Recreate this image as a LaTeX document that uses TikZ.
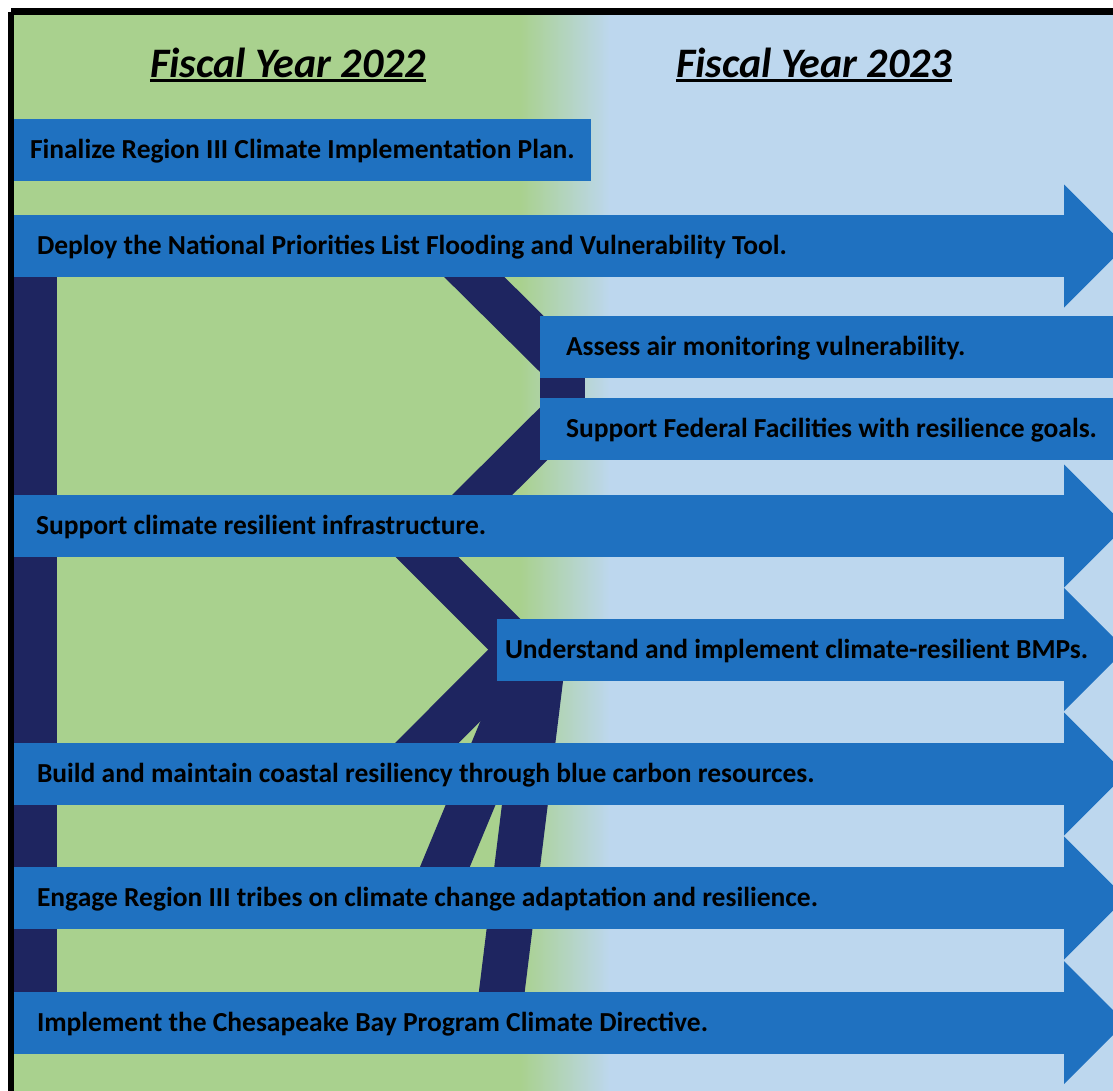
\documentclass[tikz,border=0pt]{standalone}
\usepackage{fontspec}
\setmainfont{Carlito}
\usetikzlibrary{positioning}
\usetikzlibrary{calc}
\usetikzlibrary{backgrounds}

\definecolor{leafgreen}{RGB}{169,209,142}
\definecolor{paleblue}{RGB}{189,215,238}
\definecolor{barblue}{RGB}{31,113,192}
\definecolor{inkblue}{RGB}{30,37,96}

\begin{document}
\begin{tikzpicture}
 [ x=1pt, y=-1pt
 , bar/.style={rectangle, fill=barblue, anchor=west, minimum height=62pt, inner sep=0pt, outer sep=0pt}
 , task/.style={font=\bfseries\fontsize{27.5}{32}\selectfont, text height=17.7pt, text depth=0pt, inner sep=0pt, outer sep=0pt}
 , heading/.style={font=\bfseries\itshape\fontsize{42}{48}\selectfont, inner sep=0pt, anchor=base}
 , link/.style={draw=inkblue, line width=#1}
 , link/.default=44pt
 ]
  \useasboundingbox (0,0) rectangle (1113,1090);

  \node[heading] (fy22) at (288,77) {Fiscal Year 2022};
  \node[heading] (fy23) at (814,77) {Fiscal Year 2023};
  \foreach \h in {fy22,fy23}
    \draw[line width=3pt] ([yshift=-3pt]\h.base west) -- ([yshift=-3pt]\h.base east);

  % bars
  \node[bar, minimum width=577pt] (finalize) at (14,150) {};
  \node[bar, minimum width=1050pt] (deploy) at (14,246) {};
  \node[bar, minimum width=620pt] (assess) at (540,347) {};
  \node[bar, minimum width=620pt] (federal) at (540,428.5) {};
  \node[bar, minimum width=1050pt] (infra) at (14,526) {};
  \node[bar, minimum width=567pt] (bmps) at (497,649.5) {};
  \node[bar, minimum width=1050pt] (coastal) at (14,774) {};
  \node[bar, minimum width=1050pt] (tribes) at (14,898) {};
  \node[bar, minimum width=1050pt] (bay) at (14,1022.5) {};
  \foreach \b in {deploy,infra,bmps,coastal,tribes,bay}
    \fill[barblue] (\b.east) ++(0,-61.5) -- ++(61.5,61.5) -- ++(-61.5,61.5) -- cycle;

  % texts
  \node[task, right=16pt of finalize.west] (finalizetxt) {Finalize Region III Climate Implementation Plan.};
  \node[task, right=23pt of deploy.west] (deploytxt) {Deploy the National Priorities List Flooding and Vulnerability Tool.};
  \node[task, right=26pt of assess.west] (assesstxt) {Assess air monitoring vulnerability.};
  \node[task, right=26pt of federal.west] (federaltxt) {Support Federal Facilities with resilience goals.};
  \node[task, right=22pt of infra.west] (infratxt) {Support climate resilient infrastructure.};
  \node[task, right=8pt of bmps.west] (bmpstxt) {Understand and implement climate-resilient BMPs.};
  \node[task, right=23pt of coastal.west] (coastaltxt) {Build and maintain coastal resiliency through blue carbon resources.};
  \node[task, right=23pt of tribes.west] (tribestxt) {Engage Region III tribes on climate change adaptation and resilience.};
  \node[task, right=23pt of bay.west] (baytxt) {Implement the Chesapeake Bay Program Climate Directive.};

  \begin{scope}[on background layer]
    \fill[leafgreen] (14,15) rectangle (521,1110);
    \shade[left color=leafgreen, right color=paleblue] (520,15) rectangle (610,1110);
    \fill[paleblue] (609,15) rectangle (1130,1110);
    \draw[line width=6.5pt] (11,11.5) -- (1200,11.5);
    \draw[line width=6.5pt] (11,11.5) -- (11,1200);
    % connectors
    \draw[link=43pt] ($(deploy.west)+(21.5,0)$) -- ($(bay.west)+(21.5,0)$);
    \draw[link=42.4pt] ($(deploy.west)+(429,0)$) -- ($(assess.west)+(15,10)$);
    \fill[inkblue] ($(assess.south west)+(0,-3)$) rectangle ($(federal.north west)+(45,3)$);
    \draw[link=42.4pt] ($(federal.west)+(15,-6)$) -- ($(infra.west)+(437,0)$);
    \draw[link=44.5pt] ($(infra.west)+(382,0)$) -- ($(bmps.west)+(33,10.5)$);
    \draw[link=45pt] ($(bmps.west)+(23,0)$) -- ($(coastal.west)+(382,0)$);
    \draw[link=46pt] ($(bmps.west)+(38,0)$) -- ($(tribes.west)+(418,0)$);
    \draw[link=45.5pt] ($(bmps.west)+(47,0)$) -- ($(bay.west)+(484,0)$);
  \end{scope}
\end{tikzpicture}
\end{document}
